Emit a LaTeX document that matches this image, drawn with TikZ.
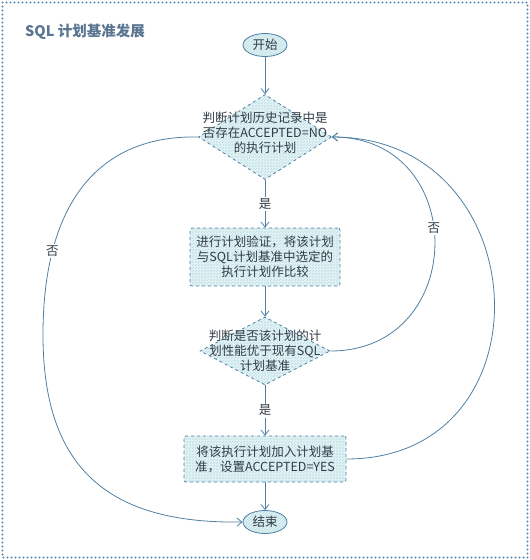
\documentclass[tikz,border=0pt]{standalone}
\usepackage{fontspec}
\setmainfont{Noto Sans CJK SC}
\usetikzlibrary{shapes.geometric,arrows.meta,patterns}
\definecolor{linec}{HTML}{4F80A3}
\definecolor{fillc}{HTML}{E2F2F4}
\definecolor{hatchc}{HTML}{B5DCE2}
\definecolor{textc}{HTML}{323C47}
\definecolor{titlec}{HTML}{5A7590}
\definecolor{framec}{HTML}{5F8BB0}
\tikzset{
  shapebase/.style={draw=linec, dashed, line width=0.8pt, preaction={fill=fillc}, pattern=north east lines, pattern color=hatchc, inner sep=0pt},
  termnode/.style={shapebase, ellipse, dash pattern=on 100pt off 0pt, minimum width=44pt, minimum height=23pt, text=textc, font=\fontsize{12.5}{14}\selectfont},
  dianode/.style={shapebase, diamond},
  boxnode/.style={shapebase, rectangle, rounded corners=2pt},
  txt/.style={text=textc, align=center, font=\fontsize{12.5}{15}\selectfont, inner sep=0pt},
  conn/.style={draw=linec, line width=0.8pt, -{Straight Barb[length=5pt,width=8pt]}},
  lbl/.style={fill=white, text=textc, font=\fontsize{12.5}{14}\selectfont, inner sep=1.5pt}
}
\begin{document}
\begin{tikzpicture}[x=1pt,y=-1pt]
\useasboundingbox (0,0) rectangle (530,560);
\draw[framec, line width=2.2pt, line cap=round, dash pattern=on 0pt off 4pt] (2.5,2.5) rectangle (527.5,557.5);
\node[anchor=west, text=titlec, font=\fontsize{14.5}{16}\selectfont\bfseries, inner sep=0pt] (title) at (25,32) {SQL 计划基准发展};

\node[termnode] (start) at (265,45) {开始};
\node[dianode, minimum width=133pt, minimum height=85pt] (d1) at (265,137) {};
\node[txt] (d1t) at (265,133) {判断计划历史记录中是\\否存在ACCEPTED=NO\\的执行计划};
\node[boxnode, minimum width=150pt, minimum height=58pt] (b2) at (265,257) {};
\node[txt] (b2t) at (b2) {进行计划验证，将该计划\\与SQL计划基准中选定的\\执行计划作比较};
\node[dianode, minimum width=130pt, minimum height=68pt] (d2) at (265,351) {};
\node[txt] (d2t) at (265,351) {判断是否该计划的计\\划性能优于现有SQL\\计划基准};
\node[boxnode, minimum width=162pt, minimum height=46pt] (b3) at (265,459) {};
\node[txt] (b3t) at (b3) {将该执行计划加入计划基\\准，设置ACCEPTED=YES};
\node[termnode] (end) at (265,522) {结束};
\coordinate (lmid) at (43,335);

\draw[conn] (start) -- (d1);
\draw[conn] (d1) -- node[lbl] {是} (b2);
\draw[conn] (b2) -- (d2);
\draw[conn] (d2) -- node[lbl] {是} (b3);
\draw[conn] (b3) -- (end);
\draw[conn] (d1.west) .. controls (105,135) and (43,195) .. (lmid) node[lbl, pos=0.77] {否}
  .. controls (43,470) and (110,524) .. (end.west);
\draw[conn] (d2.east) to[out=0,in=0,looseness=1.65] node[lbl, pos=0.55] {否} (d1.east);
\draw[conn] (b3.east) to[out=0,in=0,looseness=1.64] (d1.east);
\end{tikzpicture}
\end{document}
